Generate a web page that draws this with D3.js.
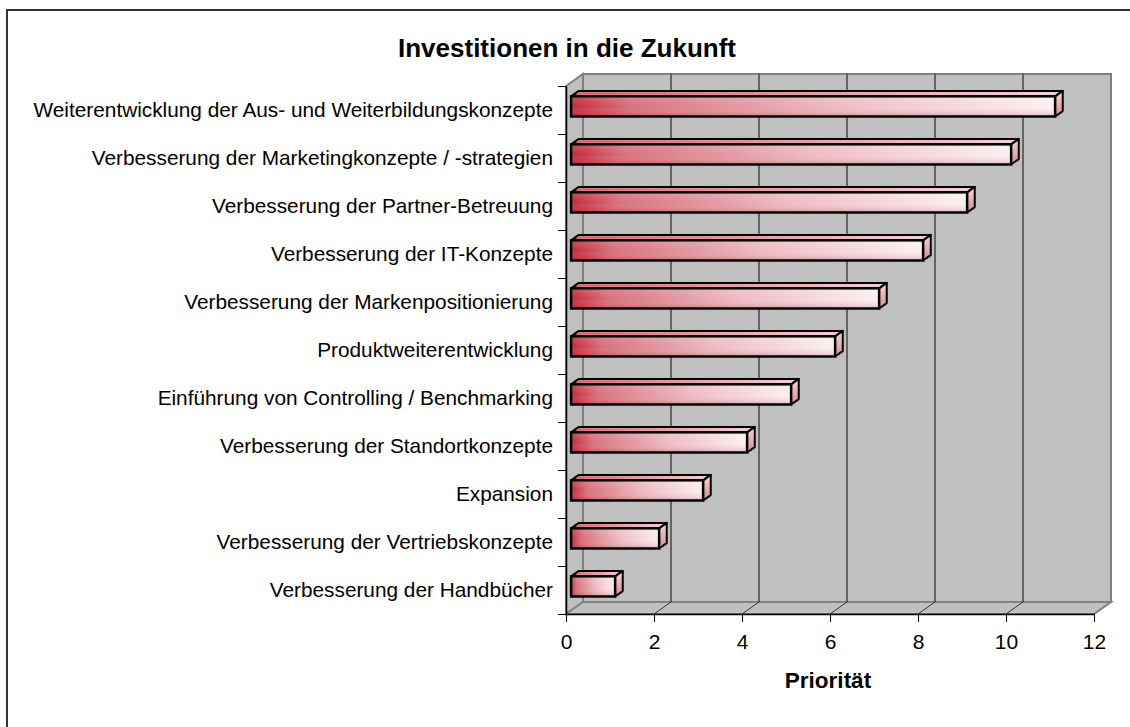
<!DOCTYPE html>
<html>
<head>
<meta charset="utf-8">
<script src="https://cdn.jsdelivr.net/npm/d3@7"></script>
<style>
  body { margin: 0; background: #fff; }
  svg { display: block; font-family: "Liberation Sans", Arial, sans-serif; }
</style>
</head>
<body>
<svg id="chart"></svg>
<script>
var width = 1130,
    height = 727;

// data, top bar first
var categories = [
  "Weiterentwicklung der Aus- und Weiterbildungskonzepte",
  "Verbesserung der Marketingkonzepte / -strategien",
  "Verbesserung der Partner-Betreuung",
  "Verbesserung der IT-Konzepte",
  "Verbesserung der Markenpositionierung",
  "Produktweiterentwicklung",
  "Einführung von Controlling / Benchmarking",
  "Verbesserung der Standortkonzepte",
  "Expansion",
  "Verbesserung der Vertriebskonzepte",
  "Verbesserung der Handbücher"
];
var values = [11, 10, 9, 8, 7, 6, 5, 4, 3, 2, 1];
var xTicks = [0, 2, 4, 6, 8, 10, 12];
var title = "Investitionen in die Zukunft";
var xTitle = "Priorität";

// 3d depth of the plot box
var depthX = 17, depthY = -12;
var barFront = 0.3, barBack = 0.75;

var svg = d3.select("#chart").attr("width", width).attr("height", height);

var x = d3.scaleLinear().domain([0, 12]).range([566, 1094]);
var y = d3.scaleBand().domain(categories).range([86, 614]).padding(0);
var barH = y.bandwidth() * 0.42;

var defs = svg.append("defs");
var g1 = defs.append("linearGradient").attr("id", "barFront")
  .attr("x1", 0).attr("y1", 0).attr("x2", 1).attr("y2", 0);
g1.append("stop").attr("offset", 0).attr("stop-color", "#c42a3a");
g1.append("stop").attr("offset", 0.12).attr("stop-color", "#d8707c");
g1.append("stop").attr("offset", 0.55).attr("stop-color", "#eebcc2");
g1.append("stop").attr("offset", 1).attr("stop-color", "#fbf0f2");
var g2 = defs.append("linearGradient").attr("id", "barShade")
  .attr("x1", 0).attr("y1", 0).attr("x2", 0).attr("y2", 1);
g2.append("stop").attr("offset", 0).attr("stop-color", "#fff").attr("stop-opacity", 0.15);
g2.append("stop").attr("offset", 0.5).attr("stop-color", "#fff").attr("stop-opacity", 0);
g2.append("stop").attr("offset", 1).attr("stop-color", "#a01020").attr("stop-opacity", 0.25);
var g3 = defs.append("linearGradient").attr("id", "barTop")
  .attr("x1", 0).attr("y1", 0).attr("x2", 1).attr("y2", 0);
g3.append("stop").attr("offset", 0).attr("stop-color", "#d86a76");
g3.append("stop").attr("offset", 1).attr("stop-color", "#f4d0d4");
var g4 = defs.append("linearGradient").attr("id", "barSide")
  .attr("x1", 0).attr("y1", 0).attr("x2", 0).attr("y2", 1);
g4.append("stop").attr("offset", 0).attr("stop-color", "#f4d4d8");
g4.append("stop").attr("offset", 1).attr("stop-color", "#dc8c96");

// outer frame
svg.append("rect")
  .attr("x", 7).attr("y", 10)
  .attr("width", width).attr("height", height)
  .attr("fill", "#fff").attr("stroke", "#333").attr("stroke-width", 2);

function pts(arr) {
  return arr.map(function(p) { return p[0] + "," + p[1]; }).join(" ");
}

var x0 = x(0), x1 = x(12), yTop = y.range()[0], yBot = y.range()[1];

// walls
var walls = svg.append("g");
walls.append("polygon") // back wall
  .attr("points", pts([[x0 + depthX, yTop + depthY], [x1 + depthX, yTop + depthY],
                       [x1 + depthX, yBot + depthY], [x0 + depthX, yBot + depthY]]))
  .attr("fill", "#c0c0c0").attr("stroke", "#808080").attr("stroke-width", 2);
walls.append("polygon") // side wall
  .attr("points", pts([[x0, yTop], [x0 + depthX, yTop + depthY],
                       [x0 + depthX, yBot + depthY], [x0, yBot]]))
  .attr("fill", "#c0c0c0").attr("stroke", "#808080").attr("stroke-width", 2);
walls.append("polygon") // floor
  .attr("points", pts([[x0, yBot], [x0 + depthX, yBot + depthY],
                       [x1 + depthX, yBot + depthY], [x1, yBot]]))
  .attr("fill", "#c0c0c0").attr("stroke", "#808080").attr("stroke-width", 2);

// grid lines on back wall and floor
var inner = xTicks.slice(1, -1);
walls.selectAll(".grid").data(inner).enter().append("line")
  .attr("x1", function(d) { return x(d) + depthX; })
  .attr("x2", function(d) { return x(d) + depthX; })
  .attr("y1", yTop + depthY).attr("y2", yBot + depthY)
  .attr("stroke", "#333").attr("stroke-width", 1.3);
walls.selectAll(".gridf").data(inner).enter().append("line")
  .attr("x1", function(d) { return x(d) + depthX; })
  .attr("x2", function(d) { return x(d); })
  .attr("y1", yBot + depthY).attr("y2", yBot)
  .attr("stroke", "#333").attr("stroke-width", 1);

// bars
var bars = svg.append("g").selectAll("g").data(values).enter().append("g");
bars.each(function(v, i) {
  var b = d3.select(this);
  var cy = y(categories[i]) + y.bandwidth() / 2;
  var fx = depthX * barFront, fy = depthY * barFront;
  var dx = depthX * (barBack - barFront), dy = depthY * (barBack - barFront);
  var left = x(0) + fx, right = x(v) + fx;
  var top = cy - barH / 2 + fy, bot = cy + barH / 2 + fy;
  b.append("polygon")
    .attr("points", pts([[left, top], [left + dx, top + dy], [right + dx, top + dy], [right, top]]))
    .attr("fill", "url(#barTop)").attr("stroke", "#000").attr("stroke-width", 2)
    .attr("stroke-linejoin", "round");
  b.append("polygon")
    .attr("points", pts([[right, top], [right + dx, top + dy], [right + dx, bot + dy], [right, bot]]))
    .attr("fill", "url(#barSide)").attr("stroke", "#000").attr("stroke-width", 2)
    .attr("stroke-linejoin", "round");
  b.append("rect")
    .attr("x", left).attr("y", top).attr("width", right - left).attr("height", bot - top)
    .attr("fill", "url(#barFront)");
  b.append("rect")
    .attr("x", left).attr("y", top).attr("width", right - left).attr("height", bot - top)
    .attr("fill", "url(#barShade)").attr("stroke", "#000").attr("stroke-width", 2.5);
});

// axes
var xAxis = svg.append("g")
  .attr("transform", "translate(0," + yBot + ")")
  .call(d3.axisBottom(x).tickValues(xTicks).tickSize(8).tickPadding(12).tickSizeOuter(0));
xAxis.select(".domain").attr("stroke", "#000").attr("stroke-width", 1.5);
xAxis.selectAll(".tick line").attr("stroke", "#000").attr("stroke-width", 1);
xAxis.selectAll("text").attr("font-size", 21).attr("fill", "#000")
  .attr("font-family", "Liberation Sans, Arial, sans-serif");

var yAxisScale = d3.scaleLinear().domain([0, categories.length]).range([yTop, yBot]);
var yAxis = svg.append("g")
  .attr("transform", "translate(" + x0 + ",0)")
  .call(d3.axisLeft(yAxisScale).ticks(categories.length).tickSize(8).tickSizeOuter(0).tickFormat(""));
yAxis.select(".domain").attr("stroke", "#000").attr("stroke-width", 1.5);
yAxis.selectAll(".tick line").attr("stroke", "#000").attr("stroke-width", 1);

svg.append("g").selectAll("text").data(categories).enter().append("text")
  .attr("x", 553)
  .attr("y", function(d) { return y(d) + y.bandwidth() / 2 + 7; })
  .attr("text-anchor", "end")
  .attr("font-size", 20.8)
  .attr("fill", "#000")
  .text(function(d) { return d; });

// titles
svg.append("text")
  .attr("x", 567).attr("y", 57)
  .attr("text-anchor", "middle")
  .attr("font-size", 26).attr("font-weight", "bold")
  .text(title);
svg.append("text")
  .attr("x", 828).attr("y", 688)
  .attr("text-anchor", "middle")
  .attr("font-size", 22.5).attr("font-weight", "bold")
  .text(xTitle);
</script>
</body>
</html>
